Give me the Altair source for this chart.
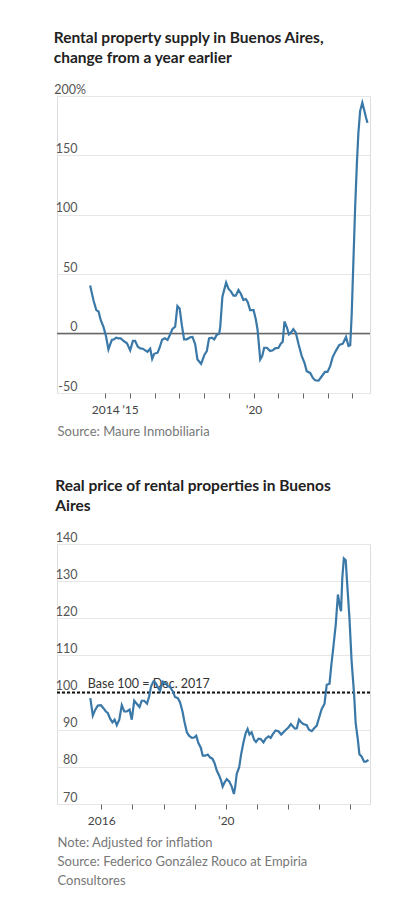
import altair as alt
import pandas as pd

# ---- Chart 1: rental supply, % change from a year earlier ----
supply_year = [2013.39, 2013.53, 2013.64, 2013.73, 2013.82, 2013.93, 2014.03, 2014.13, 2014.20, 2014.27,
               2014.36, 2014.44, 2014.54, 2014.63, 2014.74, 2014.88, 2015.01, 2015.12, 2015.21, 2015.32,
               2015.42, 2015.52, 2015.62, 2015.71, 2015.82, 2015.90, 2015.98, 2016.12, 2016.20, 2016.30,
               2016.41, 2016.52, 2016.63, 2016.72, 2016.83, 2016.92, 2017.01, 2017.10, 2017.19, 2017.30,
               2017.44, 2017.53, 2017.64, 2017.73, 2017.88, 2018.02, 2018.11, 2018.20, 2018.31, 2018.41,
               2018.51, 2018.61, 2018.65, 2018.74, 2018.89, 2018.99, 2019.08, 2019.19, 2019.28, 2019.39,
               2019.49, 2019.59, 2019.69, 2019.77, 2019.86, 2020.00, 2020.09, 2020.16, 2020.27, 2020.35,
               2020.43, 2020.54, 2020.67, 2020.78, 2020.87, 2021.01, 2021.10, 2021.18, 2021.25, 2021.35,
               2021.43, 2021.51, 2021.61, 2021.71, 2021.82, 2021.95, 2022.06, 2022.15, 2022.29, 2022.40,
               2022.49, 2022.63, 2022.76, 2022.89, 2022.99, 2023.10, 2023.20, 2023.34, 2023.47, 2023.61,
               2023.74, 2023.84, 2023.91, 2023.97, 2024.04, 2024.11, 2024.18, 2024.24, 2024.31, 2024.40,
               2024.47, 2024.55, 2024.61]
supply_change = [40.4, 27.7, 19.8, 18.6, 11.3, 5.6, -2.0, -13.3, -9.0, -5.4,
                 -4.8, -3.4, -4.0, -4.0, -6.2, -8.2, -14.1, -6.2, -6.2, -11.0,
                 -12.4, -12.7, -14.1, -15.3, -12.7, -21.2, -17.0, -16.1, -11.9, -5.1,
                 -4.0, -5.4, -0.6, 4.0, 5.9, 23.2, 21.2, 7.1, -4.8, -4.8,
                 -3.1, -2.8, -9.0, -21.8, -25.4, -17.5, -14.7, -4.0, -3.4, -4.8,
                 -1.1, 0.0, 5.1, 31.1, 42.9, 37.6, 35.6, 31.9, 31.9, 36.7,
                 33.3, 28.3, 29.1, 26.3, 19.8, 19.8, 12.1, 3.7, -21.8, -18.9,
                 -11.9, -11.9, -14.7, -14.1, -12.4, -11.9, -8.5, -6.8, 10.2, 5.1,
                 -0.6, 0.8, 3.7, 0.8, -9.0, -18.9, -24.6, -31.6, -33.1, -37.3,
                 -39.3, -39.6, -35.9, -32.2, -32.2, -27.4, -19.8, -14.1, -9.6, -8.5,
                 -2.8, -10.5, -9.9, 16.4, 61.6, 106.8, 143.5, 168.9, 187.3, 194.4,
                 188.7, 181.7, 177.4]

# ---- Chart 2: real price index of rentals (Dec. 2017 = 100) ----
price_year = [2015.65, 2015.73, 2015.81, 2015.89, 2015.99, 2016.07, 2016.15, 2016.21, 2016.29, 2016.36,
              2016.43, 2016.50, 2016.58, 2016.66, 2016.74, 2016.82, 2016.91, 2016.98, 2017.06, 2017.14,
              2017.23, 2017.30, 2017.38, 2017.47, 2017.54, 2017.60, 2017.68, 2017.75, 2017.82, 2017.89,
              2017.97, 2018.05, 2018.13, 2018.21, 2018.30, 2018.37, 2018.46, 2018.53, 2018.61, 2018.67,
              2018.75, 2018.82, 2018.91, 2018.98, 2019.05, 2019.12, 2019.20, 2019.26, 2019.34, 2019.42,
              2019.50, 2019.57, 2019.64, 2019.71, 2019.79, 2019.85, 2019.90, 2019.96, 2020.03, 2020.11,
              2020.19, 2020.26, 2020.30, 2020.35, 2020.43, 2020.49, 2020.57, 2020.64, 2020.70, 2020.76,
              2020.83, 2020.91, 2020.97, 2021.05, 2021.12, 2021.21, 2021.28, 2021.37, 2021.44, 2021.51,
              2021.60, 2021.69, 2021.78, 2021.85, 2021.93, 2022.01, 2022.09, 2022.15, 2022.22, 2022.28,
              2022.35, 2022.42, 2022.49, 2022.60, 2022.67, 2022.76, 2022.83, 2022.92, 2022.99, 2023.08,
              2023.17, 2023.24, 2023.33, 2023.39, 2023.45, 2023.53, 2023.60, 2023.67, 2023.70, 2023.74,
              2023.79, 2023.85, 2023.90, 2023.97, 2024.04, 2024.12, 2024.17, 2024.24, 2024.29, 2024.36,
              2024.44, 2024.50, 2024.58]
price_index = [98.5, 93.8, 95.4, 96.5, 96.6, 95.8, 94.9, 94.5, 92.9, 92.0,
               92.7, 91.2, 92.7, 96.6, 94.9, 94.9, 95.4, 92.7, 97.8, 97.0,
               96.1, 97.8, 97.8, 97.0, 99.0, 101.7, 103.0, 102.6, 101.4, 100.5,
               103.0, 102.7, 101.8, 101.5, 100.3, 98.8, 98.5, 97.4, 94.9, 92.2,
               89.3, 88.4, 87.8, 87.9, 88.4, 86.4, 85.1, 83.0, 83.0, 83.3,
               82.5, 82.2, 81.0, 79.0, 77.6, 76.3, 74.7, 75.8, 76.7, 76.1,
               74.7, 72.7, 74.5, 78.1, 79.9, 83.3, 86.7, 89.1, 90.2, 88.7,
               89.3, 87.3, 86.7, 87.6, 87.5, 86.6, 87.6, 88.2, 87.8, 88.8,
               89.8, 89.6, 88.7, 89.3, 90.0, 90.6, 91.5, 90.9, 90.3, 90.4,
               92.7, 92.0, 91.5, 91.2, 90.0, 89.6, 90.3, 91.1, 93.1, 95.6,
               97.0, 102.1, 102.4, 107.5, 112.0, 118.3, 126.4, 122.8, 121.9, 130.8,
               136.1, 135.6, 129.0, 120.1, 108.4, 99.5, 91.8, 87.3, 83.4, 82.8,
               81.4, 81.4, 81.9]

supply_x_ticks = list(range(2014, 2025))
price_x_ticks = list(range(2016, 2025))
supply_y_ticks = [-50, 0, 50, 100, 150, 200]
price_y_ticks = [70, 80, 90, 100, 110, 120, 130, 140]

base_value = [100]
base_label = ["Base 100 = Dec. 2017"]
base_label_year = [2015.57]

titles = {
    "supply": ["Rental property supply in Buenos Aires,", "change from a year earlier"],
    "price": ["Real price of rental properties in Buenos", "Aires"],
}
footers = {
    "supply": "Source: Maure Inmobiliaria",
    "price": ["Note: Adjusted for inflation",
              "Source: Federico González Rouco at Empiria",
              "Consultores"],
}

FONT = "Lato"
LINE_COLOR = "#3a78a8"
PLOT_W = 313


def x_axis(values, label_expr, footer):
    return alt.Axis(
        values=values, labelExpr=label_expr, grid=False, domain=False,
        tickSize=5, tickColor="#666", tickWidth=1, labelPadding=6, labelFont=FONT,
        labelFontSize=12, labelColor="#444", labelFlush=False,
        title=footer, titleAnchor="start", titleAlign="left", titleFont=FONT,
        titleFontSize=13, titleFontWeight="normal", titleColor="#777",
        titlePadding=10, titleLineHeight=19,
    )


def y_axis(values, top):
    if top is not None:
        padding = {"condition": {"test": f"datum.value == {top}", "value": -28.5}, "value": -20}
        expr = f"datum.value == {top} ? '{top}%' : '' + datum.value"
    else:
        padding = -20
        expr = "'' + datum.value"
    return alt.Axis(
        values=values, grid=True, gridColor="#e6e6e6", gridWidth=1, domain=False,
        ticks=False, tickSize=0, labelAlign="right", labelBaseline="alphabetic",
        labelOffset=-3, labelPadding=padding, labelExpr=expr,
        labelFont=FONT, labelFontSize=12.5, labelColor="#555", title=None,
    )


def title_params(lines):
    return alt.TitleParams(text=lines, anchor="start", font=FONT, fontSize=15.5,
                           fontWeight="bold", color="#222", lineHeight=20, offset=17)


# ---------- chart 1 ----------
df1 = pd.DataFrame({"year": supply_year, "value": supply_change})
x1 = alt.X("year:Q", scale=alt.Scale(domain=[2012.05, 2024.71], nice=False, zero=False),
           axis=x_axis(supply_x_ticks,
                       "datum.value == 2014 ? '2014' : datum.value == 2015 ? '’15' : datum.value == 2020 ? '’20' : ''",
                       footers["supply"]))
y1 = alt.Y("value:Q", scale=alt.Scale(domain=[-50, 200], nice=False, zero=False),
           axis=y_axis(supply_y_ticks, 200))

zero_rule = alt.Chart(pd.DataFrame({"value": [0]})).mark_rule(
    color="#666", strokeWidth=1.5).encode(y=y1)
line1 = alt.Chart(df1).mark_line(color=LINE_COLOR, strokeWidth=2.2).encode(x=x1, y=y1)
chart1 = alt.layer(zero_rule, line1).properties(
    width=PLOT_W, height=297, title=title_params(titles["supply"]))

# ---------- chart 2 ----------
df2 = pd.DataFrame({"year": price_year, "value": price_index})
x2 = alt.X("year:Q", scale=alt.Scale(domain=[2014.58, 2024.63], nice=False, zero=False),
           axis=x_axis(price_x_ticks,
                       "datum.value == 2016 ? '2016' : datum.value == 2020 ? '’20' : ''",
                       footers["price"]))
y2 = alt.Y("value:Q", scale=alt.Scale(domain=[70, 140], nice=False, zero=False),
           axis=y_axis(price_y_ticks, None))

base_rule = alt.Chart(pd.DataFrame({"value": base_value})).mark_rule(
    color="#111", strokeWidth=2, strokeDash=[3, 2]).encode(y=y2)
base_text = alt.Chart(pd.DataFrame({"year": base_label_year, "value": base_value, "label": base_label})).mark_text(
    align="left", baseline="alphabetic", dy=-5, font=FONT, fontSize=12.5, color="#333").encode(
    x=x2, y=y2, text="label:N")
line2 = alt.Chart(df2).mark_line(color=LINE_COLOR, strokeWidth=2.2).encode(x=x2, y=y2)
chart2 = alt.layer(base_rule, base_text, line2).properties(
    width=PLOT_W, height=260, title=title_params(titles["price"]))

chart = alt.vconcat(chart1, chart2, spacing=39).properties(
    padding={"left": 45, "top": 22, "right": 10, "bottom": 5}
).configure_view(strokeWidth=0).configure(background="white")

chart.save("out.html", embed_options={"renderer": "svg", "actions": False})
